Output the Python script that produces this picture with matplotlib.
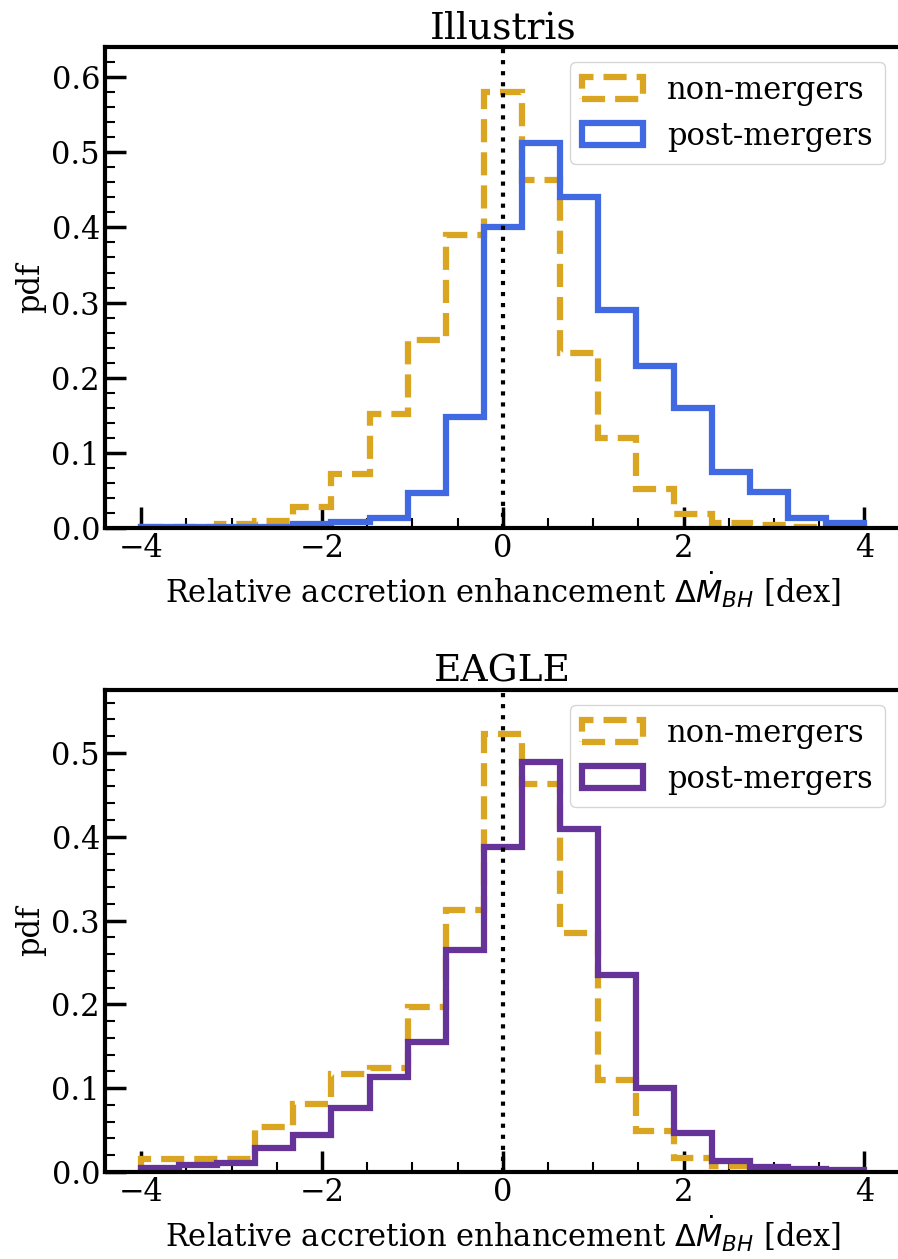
import numpy as np
import matplotlib
matplotlib.use('Agg')
import matplotlib.pyplot as plt
from matplotlib.ticker import MultipleLocator

# 19 equal bins in delta log Mdot_BH
edges = np.linspace(-4, 4, 20)
centers = 0.5 * (edges[1:] + edges[:-1])

# normalised histograms (pdf), one value per bin
ill_non = [0.001, 0.002, 0.005, 0.010, 0.028, 0.072, 0.152, 0.250, 0.390, 0.580,
           0.463, 0.233, 0.120, 0.052, 0.019, 0.007, 0.004, 0.002, 0.001]
ill_post = [0.001, 0.001, 0.002, 0.002, 0.005, 0.008, 0.013, 0.047, 0.148, 0.400,
            0.512, 0.440, 0.290, 0.216, 0.160, 0.075, 0.048, 0.013, 0.007]
eag_non = [0.016, 0.016, 0.016, 0.054, 0.081, 0.117, 0.124, 0.197, 0.313, 0.522,
           0.463, 0.285, 0.110, 0.049, 0.017, 0.007, 0.000, 0.000, 0.000]
eag_post = [0.005, 0.008, 0.011, 0.029, 0.044, 0.076, 0.113, 0.155, 0.265, 0.388,
            0.489, 0.409, 0.235, 0.100, 0.047, 0.013, 0.006, 0.003, 0.002]

panels = [('Illustris', ill_non, ill_post, 'royalblue', 0.64),
          ('EAGLE', eag_non, eag_post, 'rebeccapurple', 0.575)]

plt.rcParams['font.family'] = 'DejaVu Serif'

fig = plt.figure(figsize=(8.98, 12.59), dpi=100)
boxes = [[0.1169, 0.5806, 0.886, 0.382], [0.1169, 0.0691, 0.886, 0.3828]]

for box, (name, non, post, col, ytop) in zip(boxes, panels):
    ax = fig.add_axes(box)
    ax.hist(centers, bins=edges, weights=non, histtype='step', color='goldenrod',
            ls='--', lw=4.5, label='non-mergers')
    ax.hist(centers, bins=edges, weights=post, histtype='step', color=col,
            lw=4.5, label='post-mergers')
    ax.axvline(0, color='k', ls=':', lw=3, zorder=5)

    ax.set_xlim(-4.4, 4.4)
    ax.set_ylim(0, ytop)
    ax.set_title(name, fontsize=27)
    ax.set_ylabel('pdf', fontsize=22)
    ax.set_xlabel(r'Relative accretion enhancement $\Delta\dot{M}_{BH}$ [dex]', fontsize=22)

    ax.xaxis.set_major_locator(MultipleLocator(2))
    ax.xaxis.set_minor_locator(MultipleLocator(0.5))
    ax.yaxis.set_major_locator(MultipleLocator(0.1))
    ax.yaxis.set_minor_locator(MultipleLocator(0.02))
    ax.tick_params(which='both', direction='in', labelsize=22)
    ax.tick_params(which='major', length=15, width=2.5)
    ax.tick_params(which='minor', length=7, width=1.5)
    for s in ax.spines.values():
        s.set_linewidth(3)

    ax.legend(loc='upper right', fontsize=22)

fig.savefig('out.png', dpi=100)
